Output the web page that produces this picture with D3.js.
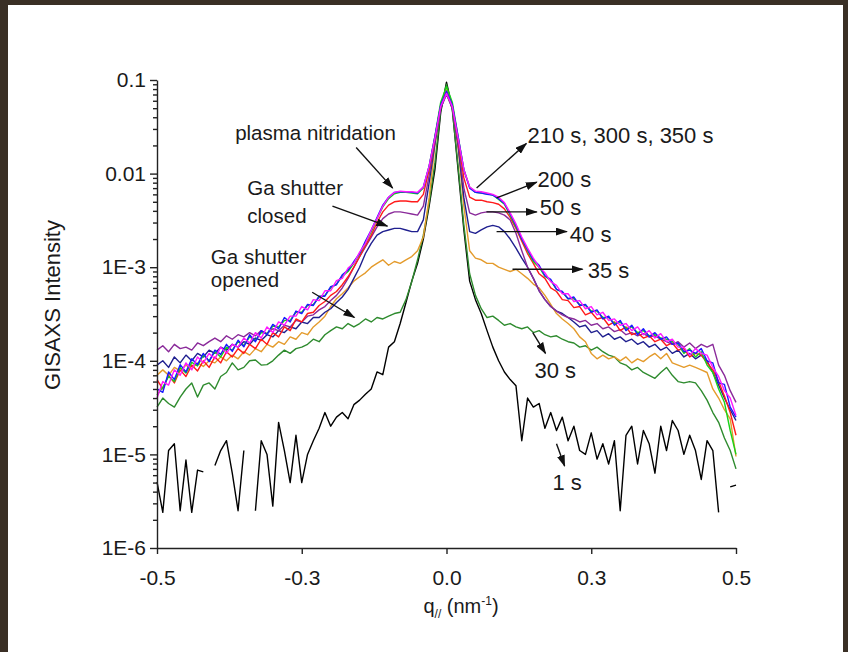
<!DOCTYPE html>
<html>
<head>
<meta charset="utf-8">
<script src="https://cdn.jsdelivr.net/npm/d3@7"></script>
<style>
  html, body { margin: 0; padding: 0; background: #3a2f25; }
  svg { display: block; }
  text { font-family: "Liberation Sans", Arial, sans-serif; fill: #1a1a1a; }
</style>
</head>
<body>
<svg id="chart" width="848" height="652"></svg>
<script>
// q grid (nm^-1)
var q = [-0.50,-0.49,-0.48,-0.47,-0.46,-0.45,-0.44,-0.43,-0.42,-0.41,
  -0.40,-0.39,-0.38,-0.37,-0.36,-0.35,-0.34,-0.33,-0.32,-0.31,
  -0.30,-0.29,-0.28,-0.27,-0.26,-0.25,-0.24,-0.23,-0.22,-0.21,
  -0.20,-0.19,-0.18,-0.17,-0.16,-0.15,-0.14,-0.13,-0.12,-0.11,
  -0.10,-0.09,-0.08,-0.07,-0.06,-0.05,-0.04,-0.03,-0.02,-0.01,
  0.00,
  0.01,0.02,0.03,0.04,0.05,0.06,0.07,0.08,0.09,0.10,
  0.11,0.12,0.13,0.14,0.15,0.16,0.17,0.18,0.19,0.20,
  0.21,0.22,0.23,0.24,0.25,0.26,0.27,0.28,0.29,0.30,
  0.31,0.32,0.33,0.34,0.35,0.36,0.37,0.38,0.39,0.40,
  0.41,0.42,0.43,0.44,0.45,0.46,0.47,0.48,0.49,0.50];

// GISAXS intensity per growth time (null = zero count, gap in the log plot)
var i1s = [5.1e-6,2.4e-6,1.1e-5,1.3e-5,2.5e-6,8.7e-6,2.4e-6,6.8e-6,6.5e-6,null,
  7.6e-6,1.1e-5,1.4e-5,6.3e-6,2.5e-6,1.1e-5,null,2.5e-6,1.4e-5,1.0e-5,
  2.8e-6,2.2e-5,1.1e-5,5.0e-6,1.6e-5,5.0e-6,1.0e-5,1.4e-5,1.9e-5,2.8e-5,
  2.0e-5,2.5e-5,2.8e-5,2.4e-5,3.4e-5,3.8e-5,4.4e-5,5.0e-5,7.6e-5,7.1e-5,
  1.4e-4,1.6e-4,2.5e-4,4.2e-4,7.1e-4,1.1e-3,2.0e-3,4.5e-3,1.1e-2,4.5e-2,
  9.5e-2,
  5.0e-2,1.1e-2,2.5e-3,7.1e-4,4.5e-4,3.2e-4,2.1e-4,1.4e-4,1.0e-4,7.6e-5,
  6.3e-5,5.4e-5,1.4e-5,4.0e-5,3.2e-5,3.5e-5,1.9e-5,2.8e-5,1.8e-5,2.5e-5,
  1.4e-5,2.0e-5,1.1e-5,1.0e-5,1.7e-5,8.9e-6,1.3e-5,7.9e-6,1.4e-5,2.5e-6,
  1.6e-5,2.0e-5,7.9e-6,1.8e-5,1.3e-5,6.3e-6,2.0e-5,1.1e-5,2.3e-5,1.8e-5,
  1.0e-5,1.6e-5,1.1e-5,5.4e-6,1.4e-5,1.1e-5,2.4e-6,null,4.5e-6,4.7e-6];

var i30s = [3.2e-5,4.0e-5,3.5e-5,3.2e-5,4.1e-5,5.0e-5,5.8e-5,4.1e-5,5.5e-5,5.8e-5,
  5.0e-5,6.8e-5,7.5e-5,9.5e-5,8.0e-5,8.5e-5,1.0e-4,1.02e-4,9.0e-5,9.1e-5,
  1.0e-4,1.15e-4,1.3e-4,1.2e-4,1.35e-4,1.4e-4,1.5e-4,1.7e-4,1.6e-4,1.9e-4,
  2.1e-4,2.3e-4,2.2e-4,2.5e-4,2.3e-4,2.5e-4,2.8e-4,2.6e-4,2.9e-4,2.8e-4,
  3.0e-4,3.2e-4,3.3e-4,4.5e-4,7.0e-4,1.2e-3,2.2e-3,4.8e-3,1.3e-2,4.8e-2,
  9.0e-2,
  4.8e-2,1.2e-2,2.8e-3,8.5e-4,5.0e-4,3.6e-4,2.9e-4,3.0e-4,2.7e-4,2.4e-4,
  2.5e-4,2.3e-4,2.2e-4,2.3e-4,2.0e-4,2.1e-4,1.9e-4,1.8e-4,1.85e-4,1.7e-4,
  1.6e-4,1.55e-4,1.4e-4,1.45e-4,1.3e-4,1.4e-4,1.25e-4,1.15e-4,1.1e-4,9.5e-5,
  9.0e-5,8.0e-5,8.5e-5,7.5e-5,7.0e-5,6.5e-5,7.5e-5,8.5e-5,7.0e-5,6.0e-5,
  5.8e-5,6.0e-5,5.8e-5,4.8e-5,3.8e-5,2.8e-5,2.2e-5,1.5e-5,1.1e-5,7.0e-6];

var i35s = [7.0e-5,8.0e-5,7.0e-5,8.5e-5,7.8e-5,9.0e-5,8.2e-5,9.5e-5,8.7e-5,1.0e-4,
  9.5e-5,1.1e-4,1.0e-4,1.15e-4,1.05e-4,1.25e-4,1.15e-4,1.35e-4,1.25e-4,1.5e-4,
  1.4e-4,1.6e-4,1.5e-4,1.8e-4,1.7e-4,2.0e-4,1.9e-4,2.3e-4,2.6e-4,3.0e-4,
  3.8e-4,4.6e-4,5.2e-4,6.0e-4,7.1e-4,7.9e-4,8.7e-4,1.0e-3,1.1e-3,1.2e-3,
  1.05e-3,1.15e-3,1.1e-3,1.2e-3,1.3e-3,1.5e-3,2.1e-3,5.5e-3,2.0e-2,5.2e-2,
  8.0e-2,
  5.2e-2,1.9e-2,4.5e-3,1.5e-3,1.25e-3,1.2e-3,1.1e-3,1.1e-3,1.0e-3,9.5e-4,
  9.0e-4,9.5e-4,8.5e-4,7.6e-4,6.6e-4,6.0e-4,5.0e-4,4.0e-4,3.2e-4,2.8e-4,
  2.5e-4,2.2e-4,1.8e-4,1.6e-4,1.2e-4,1.05e-4,1.15e-4,1.05e-4,1.1e-4,1.0e-4,
  1.1e-4,9.5e-5,1.05e-4,9.8e-5,1.1e-4,1.2e-4,1.05e-4,1.2e-4,9.5e-5,9.0e-5,
  8.5e-5,9.0e-5,8.5e-5,8.0e-5,7.5e-5,5.0e-5,4.0e-5,3.0e-5,2.4e-5,9.5e-6];

var i40s = [9.0e-5,1.0e-4,8.5e-5,1.1e-4,9.5e-5,1.15e-4,1.0e-4,1.2e-4,1.1e-4,1.3e-4,
  1.2e-4,1.4e-4,1.3e-4,1.5e-4,1.4e-4,1.6e-4,1.5e-4,1.75e-4,1.65e-4,1.9e-4,
  1.8e-4,2.1e-4,2.0e-4,2.3e-4,2.2e-4,2.6e-4,2.5e-4,2.9e-4,2.9e-4,3.3e-4,
  3.6e-4,4.2e-4,4.8e-4,5.8e-4,7.6e-4,1.0e-3,1.4e-3,1.8e-3,2.2e-3,2.4e-3,
  2.5e-3,2.6e-3,2.6e-3,2.5e-3,2.4e-3,2.4e-3,3.2e-3,8.0e-3,2.1e-2,5.0e-2,
  7.2e-2,
  5.0e-2,2.0e-2,5.5e-3,2.4e-3,2.3e-3,2.5e-3,2.7e-3,2.8e-3,2.7e-3,2.4e-3,
  2.0e-3,1.6e-3,1.25e-3,1.0e-3,7.6e-4,5.6e-4,4.5e-4,3.8e-4,3.4e-4,3.2e-4,
  2.9e-4,2.6e-4,2.3e-4,2.4e-4,2.0e-4,2.1e-4,1.8e-4,1.95e-4,1.7e-4,1.8e-4,
  1.6e-4,1.7e-4,1.5e-4,1.6e-4,1.4e-4,1.5e-4,1.3e-4,1.4e-4,1.2e-4,1.3e-4,
  1.1e-4,1.2e-4,1.05e-4,1.15e-4,1.0e-4,7.5e-5,5.5e-5,4.0e-5,3.0e-5,2.3e-5];

var i50s = [1.3e-4,1.45e-4,1.25e-4,1.5e-4,1.35e-4,1.4e-4,1.3e-4,1.55e-4,1.45e-4,1.6e-4,
  1.75e-4,1.6e-4,1.85e-4,1.7e-4,1.9e-4,1.8e-4,2.0e-4,1.85e-4,2.1e-4,1.95e-4,
  2.2e-4,2.1e-4,2.4e-4,2.3e-4,2.7e-4,2.6e-4,3.0e-4,3.1e-4,3.5e-4,3.8e-4,
  4.4e-4,5.0e-4,6.0e-4,7.6e-4,1.0e-3,1.3e-3,1.65e-3,2.1e-3,2.7e-3,3.3e-3,
  3.7e-3,3.9e-3,3.9e-3,3.8e-3,3.7e-3,3.6e-3,4.5e-3,9.5e-3,2.2e-2,5.0e-2,
  7.0e-2,
  5.0e-2,2.1e-2,7.0e-3,3.8e-3,3.6e-3,3.8e-3,3.9e-3,3.9e-3,3.8e-3,3.6e-3,
  3.2e-3,2.3e-3,1.5e-3,1.0e-3,7.6e-4,5.6e-4,4.5e-4,3.8e-4,3.4e-4,3.1e-4,
  2.9e-4,2.8e-4,2.6e-4,2.7e-4,2.4e-4,2.5e-4,2.2e-4,2.3e-4,2.05e-4,2.15e-4,
  1.9e-4,2.0e-4,1.85e-4,1.95e-4,1.8e-4,1.85e-4,1.7e-4,1.6e-4,1.5e-4,1.6e-4,
  1.4e-4,1.55e-4,1.35e-4,1.5e-4,1.4e-4,1.5e-4,9.0e-5,7.0e-5,4.8e-5,3.6e-5];

var i200s = [6.3e-5,5.0e-5,7.0e-5,5.8e-5,8.0e-5,6.8e-5,9.0e-5,7.8e-5,1.0e-4,8.5e-5,
  1.1e-4,9.5e-5,1.25e-4,1.1e-4,1.35e-4,1.2e-4,1.5e-4,1.35e-4,1.7e-4,1.5e-4,
  2.0e-4,1.8e-4,2.3e-4,2.1e-4,2.8e-4,2.6e-4,3.2e-4,3.3e-4,3.9e-4,4.3e-4,
  5.0e-4,5.5e-4,6.5e-4,7.9e-4,1.0e-3,1.3e-3,1.7e-3,2.2e-3,3.0e-3,3.9e-3,
  4.6e-3,5.0e-3,5.1e-3,5.1e-3,5.0e-3,5.0e-3,6.0e-3,1.1e-2,2.4e-2,5.4e-2,
  7.6e-2,
  5.4e-2,2.3e-2,9.0e-3,5.6e-3,5.2e-3,5.2e-3,5.0e-3,4.9e-3,4.7e-3,4.2e-3,
  3.4e-3,2.6e-3,1.9e-3,1.4e-3,1.1e-3,8.5e-4,7.6e-4,6.0e-4,5.5e-4,4.5e-4,
  4.4e-4,3.7e-4,3.8e-4,3.1e-4,3.3e-4,2.8e-4,2.9e-4,2.4e-4,2.6e-4,2.1e-4,
  2.3e-4,1.9e-4,2.0e-4,1.75e-4,1.85e-4,1.6e-4,1.7e-4,1.45e-4,1.55e-4,1.3e-4,
  1.35e-4,1.1e-4,1.2e-4,1.15e-4,9.5e-5,8.0e-5,6.0e-5,4.2e-5,2.8e-5,1.6e-5];

var i210s = [4.3e-5,5.2e-5,6.8e-5,6.0e-5,8.5e-5,7.4e-5,9.6e-5,8.8e-5,1.15e-4,1.0e-4,
  1.25e-4,1.1e-4,1.4e-4,1.3e-4,1.6e-4,1.45e-4,1.8e-4,1.65e-4,2.0e-4,1.95e-4,
  2.35e-4,2.3e-4,2.7e-4,2.7e-4,3.3e-4,3.3e-4,3.9e-4,4.0e-4,4.8e-4,5.0e-4,
  6.0e-4,6.6e-4,8.0e-4,9.0e-4,1.1e-3,1.4e-3,1.8e-3,2.4e-3,3.3e-3,4.4e-3,
  5.4e-3,6.1e-3,6.3e-3,6.3e-3,6.2e-3,6.1e-3,7.0e-3,1.2e-2,2.5e-2,5.8e-2,
  8.5e-2,
  5.8e-2,2.5e-2,1.1e-2,7.2e-3,6.3e-3,6.2e-3,6.1e-3,5.9e-3,5.3e-3,4.7e-3,
  3.6e-3,2.7e-3,2.0e-3,1.5e-3,1.15e-3,1.0e-3,8.0e-4,7.2e-4,5.8e-4,5.4e-4,
  4.6e-4,4.6e-4,4.0e-4,3.9e-4,3.4e-4,3.4e-4,2.9e-4,2.9e-4,2.5e-4,2.6e-4,
  2.2e-4,2.3e-4,2.0e-4,2.1e-4,1.85e-4,1.9e-4,1.75e-4,1.7e-4,1.6e-4,1.5e-4,
  1.2e-4,1.35e-4,1.1e-4,1.25e-4,9.0e-5,7.5e-5,5.0e-5,3.6e-5,1.8e-5,1.0e-5];

var i300s = [5.0e-5,4.6e-5,7.6e-5,6.3e-5,9.1e-5,7.6e-5,1.05e-4,9.1e-5,1.2e-4,9.8e-5,
  1.3e-4,1.17e-4,1.5e-4,1.26e-4,1.66e-4,1.41e-4,1.9e-4,1.6e-4,2.1e-4,1.9e-4,
  2.45e-4,2.2e-4,2.9e-4,2.6e-4,3.4e-4,3.2e-4,4.0e-4,3.9e-4,4.9e-4,4.9e-4,
  6.2e-4,6.5e-4,8.3e-4,9.3e-4,1.15e-3,1.4e-3,1.9e-3,2.5e-3,3.4e-3,4.6e-3,
  5.6e-3,6.3e-3,6.4e-3,6.4e-3,6.3e-3,6.2e-3,7.2e-3,1.2e-2,2.5e-2,5.4e-2,
  7.6e-2,
  5.4e-2,2.5e-2,1.1e-2,7.0e-3,6.3e-3,6.2e-3,6.0e-3,5.9e-3,5.4e-3,4.8e-3,
  3.7e-3,2.8e-3,2.0e-3,1.55e-3,1.2e-3,1.05e-3,8.1e-4,7.4e-4,5.8e-4,5.5e-4,
  4.6e-4,4.8e-4,3.9e-4,4.0e-4,3.3e-4,3.5e-4,2.8e-4,3.0e-4,2.4e-4,2.7e-4,
  2.1e-4,2.4e-4,1.9e-4,2.2e-4,1.8e-4,2.0e-4,1.7e-4,1.8e-4,1.5e-4,1.55e-4,
  1.25e-4,1.3e-4,1.2e-4,1.35e-4,1.0e-4,9.5e-5,5.8e-5,5.6e-5,3.2e-5,2.5e-5];

var i350s = [4.0e-5,6.0e-5,5.5e-5,8.0e-5,7.0e-5,9.5e-5,8.0e-5,1.1e-4,9.5e-5,1.2e-4,
  1.05e-4,1.4e-4,1.2e-4,1.5e-4,1.4e-4,1.75e-4,1.55e-4,2.0e-4,1.75e-4,2.3e-4,
  2.0e-4,2.6e-4,2.4e-4,3.0e-4,3.0e-4,3.8e-4,3.5e-4,4.5e-4,4.4e-4,5.6e-4,
  5.6e-4,7.2e-4,7.6e-4,9.8e-4,1.1e-3,1.45e-3,1.8e-3,2.5e-3,3.3e-3,4.5e-3,
  5.6e-3,6.3e-3,6.5e-3,6.4e-3,6.4e-3,6.3e-3,7.2e-3,1.2e-2,2.4e-2,5.2e-2,
  7.2e-2,
  5.2e-2,2.4e-2,1.1e-2,7.2e-3,6.5e-3,6.4e-3,6.2e-3,6.0e-3,5.6e-3,4.9e-3,
  3.8e-3,2.9e-3,2.1e-3,1.6e-3,1.25e-3,1.0e-3,8.7e-4,7.0e-4,6.4e-4,5.2e-4,
  5.2e-4,4.3e-4,4.4e-4,3.6e-4,3.8e-4,3.1e-4,3.3e-4,2.7e-4,2.8e-4,2.4e-4,
  2.5e-4,2.1e-4,2.3e-4,1.9e-4,2.1e-4,1.75e-4,1.95e-4,1.6e-4,1.7e-4,1.4e-4,
  1.4e-4,1.15e-4,1.35e-4,1.2e-4,1.15e-4,8.5e-5,6.8e-5,4.8e-5,4.0e-5,2.6e-5];

var seriesNames = ["1 s", "30 s", "35 s", "40 s", "50 s", "200 s", "210 s", "300 s", "350 s"];
var seriesValues = [i1s, i30s, i35s, i40s, i50s, i200s, i210s, i300s, i350s];
var seriesColors = ["#000000", "#2e8b2e", "#e49b2c", "#1f1f8f", "#8a2a9a", "#ff1a1a", "#19d219", "#1a1aff", "#ff19ff"];

var xTicks = [-0.5, -0.25, 0, 0.25, 0.5];
var xTickLabels = ["-0.5", "-0.3", "0.0", "0.3", "0.5"];
var yTicks = [1e-6, 1e-5, 1e-4, 1e-3, 1e-2, 1e-1];
var yTickLabels = ["1E-6", "1E-5", "1E-4", "1E-3", "0.01", "0.1"];

// annotations, placed in data coordinates (q, intensity)
var notes = [
  {lines: [["plasma nitridation", 2.3e-2]], tq: -0.365, size: 20.5, from: [-0.156, 1.9e-2], to: [-0.093, 7.0e-3]},
  {lines: [["Ga shutter", 5.9e-3], ["closed", 2.96e-3]], tq: -0.344, size: 20.5, from: [-0.197, 4.5e-3], to: [-0.102, 2.75e-3]},
  {lines: [["Ga shutter", 1.08e-3], ["opened", 6.2e-4]], tq: -0.407, size: 20.5, from: [-0.232, 5.4e-4], to: [-0.159, 2.9e-4]},
  {lines: [["210 s, 300 s, 350 s", 2.1e-2]], tq: 0.140, size: 22, from: [0.052, 7.0e-3], to: [0.138, 2.1e-2]},
  {lines: [["200 s", 7.2e-3]], tq: 0.157, size: 22, from: [0.0865, 5.5e-3], to: [0.156, 8.1e-3]},
  {lines: [["50 s", 3.6e-3]], tq: 0.161, size: 22, from: [0.069, 3.9e-3], to: [0.156, 3.9e-3]},
  {lines: [["40 s", 1.86e-3]], tq: 0.213, size: 22, from: [0.0865, 2.4e-3], to: [0.208, 2.4e-3]},
  {lines: [["35 s", 7.7e-4]], tq: 0.244, size: 22, from: [0.114, 9.5e-4], to: [0.235, 9.5e-4]},
  {lines: [["30 s", 6.5e-5]], tq: 0.152, size: 22, from: [0.149, 2.0e-4], to: [0.171, 1.2e-4]},
  {lines: [["1 s", 4.2e-6]], tq: 0.183, size: 22, from: [0.19, 1.3e-5], to: [0.204, 7.5e-6]}
];

var svg = d3.select("#chart");

// white panel inside the dark frame
svg.append("rect")
  .attr("x", 8).attr("y", 5)
  .attr("width", 835).attr("height", 647)
  .attr("fill", "#ffffff");

var x = d3.scaleLinear().domain([-0.5, 0.5]).range([157, 736]);
var y = d3.scaleLog().domain([1e-6, 0.1]).range([548, 80]);

// arrow head
svg.append("defs").append("marker")
  .attr("id", "head")
  .attr("viewBox", "0 0 12 8")
  .attr("refX", 11).attr("refY", 4)
  .attr("markerWidth", 12).attr("markerHeight", 8)
  .attr("markerUnits", "userSpaceOnUse")
  .attr("orient", "auto")
  .append("path")
  .attr("d", "M0,0L12,4L0,8z")
  .attr("fill", "#111");

// curves
var line = d3.line()
  .defined(function(d) { return d.v != null; })
  .x(function(d) { return x(d.q); })
  .y(function(d) { return y(d.v); });

seriesValues.forEach(function(vals, k) {
  var pts = q.map(function(qq, i) { return {q: qq, v: vals[i]}; });
  svg.append("path")
    .datum(pts)
    .attr("fill", "none")
    .attr("stroke", seriesColors[k])
    .attr("stroke-width", 1.4)
    .attr("stroke-linejoin", "round")
    .attr("d", line);
});

// x axis
var gx = svg.append("g")
  .attr("transform", "translate(0,548)")
  .call(d3.axisBottom(x).tickValues(xTicks)
    .tickFormat(function(d, i) { return xTickLabels[i]; })
    .tickSize(6).tickSizeOuter(0).tickPadding(16));

// y axis, majors
var gy = svg.append("g")
  .attr("transform", "translate(157,0)")
  .call(d3.axisLeft(y).tickValues(yTicks)
    .tickFormat(function(d, i) { return yTickLabels[i]; })
    .tickSize(7).tickSizeOuter(0).tickPadding(4));

// y axis, minors
svg.append("g")
  .attr("transform", "translate(157,0)")
  .call(d3.axisLeft(y)
    .tickValues(y.ticks().filter(function(d) { return yTicks.indexOf(d) < 0; }))
    .tickFormat("").tickSize(4).tickSizeOuter(0))
  .select(".domain").remove();

svg.selectAll(".domain, .tick line").attr("stroke", "#222").attr("stroke-width", 1.4);
gx.selectAll("text").attr("font-size", 21).attr("fill", "#1a1a1a").attr("font-family", "Liberation Sans, Arial, sans-serif");
gy.selectAll("text").attr("font-size", 21).attr("fill", "#1a1a1a").attr("font-family", "Liberation Sans, Arial, sans-serif");

// axis titles
svg.append("text")
  .attr("transform", "translate(60,305) rotate(-90)")
  .attr("text-anchor", "middle")
  .attr("font-size", 22)
  .text("GISAXS Intensity");

var xt = svg.append("text")
  .attr("x", 461).attr("y", 613)
  .attr("text-anchor", "middle")
  .attr("font-size", 20);
xt.append("tspan").text("q");
xt.append("tspan").attr("font-size", 12).attr("dy", 5).text("//");
xt.append("tspan").attr("dy", -5).text(" (nm");
xt.append("tspan").attr("font-size", 12).attr("dy", -8).text("-1");
xt.append("tspan").attr("dy", 8).text(")");

// annotations
notes.forEach(function(n) {
  n.lines.forEach(function(l) {
    svg.append("text")
      .attr("x", x(n.tq)).attr("y", y(l[1]))
      .attr("font-size", n.size)
      .text(l[0]);
  });
  svg.append("line")
    .attr("x1", x(n.from[0])).attr("y1", y(n.from[1]))
    .attr("x2", x(n.to[0])).attr("y2", y(n.to[1]))
    .attr("stroke", "#111")
    .attr("stroke-width", 1.4)
    .attr("marker-end", "url(#head)");
});
</script>
</body>
</html>
